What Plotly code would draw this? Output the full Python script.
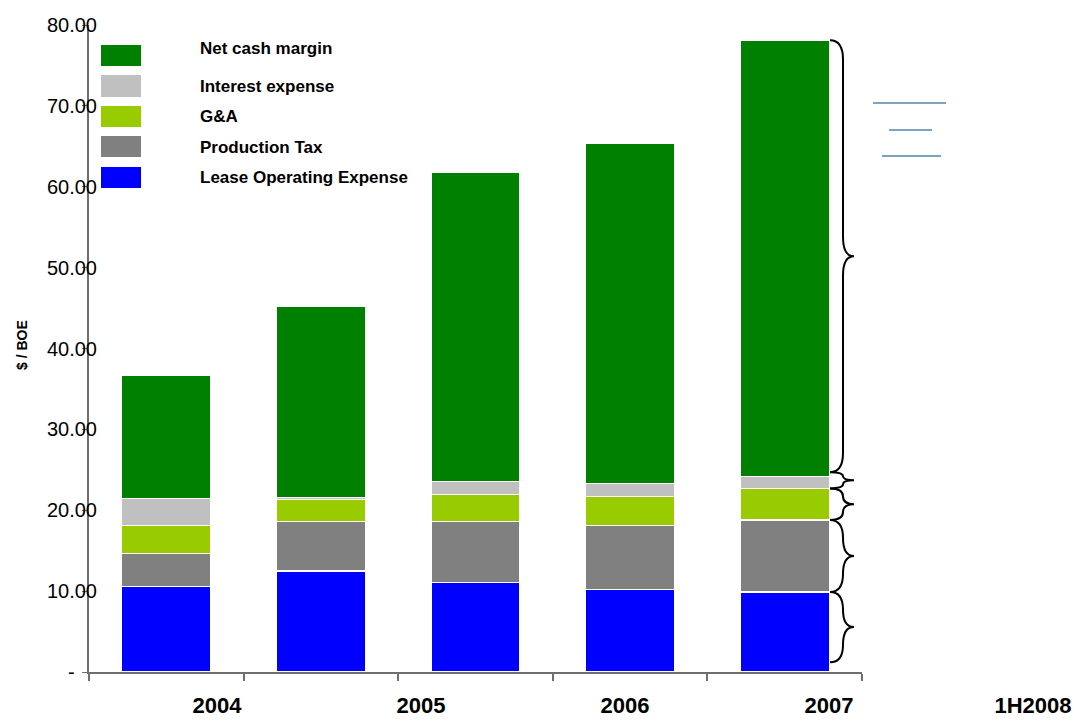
import plotly.graph_objects as go

# ---- data ----
years = ["2004", "2005", "2006", "2007", "1H2008"]
bar_years = ["2004", "2005", "2006", "2007", "1H2008"]
lease_operating = [10.6, 12.5, 11.1, 10.2, 9.9]
production_tax = [4.1, 6.1, 7.5, 7.9, 8.9]
g_and_a = [3.4, 2.7, 3.3, 3.6, 3.9]
interest_expense = [3.4, 0.3, 1.7, 1.6, 1.5]
net_cash_margin = [15.2, 23.6, 38.2, 42.1, 53.9]
y_ticks = [0, 10, 20, 30, 40, 50, 60, 70, 80]
y_tick_text = ["-\u00a0\u00a0\u00a0\u00a0", "10.00", "20.00", "30.00", "40.00",
               "50.00", "60.00", "70.00", "80.00"]
x_label_pos = [0, 1, 2, 3, 4]

series = [
    ("Lease Operating Expense", lease_operating, "#0000FF"),
    ("Production Tax", production_tax, "#808080"),
    ("G&A", g_and_a, "#99CC00"),
    ("Interest expense", interest_expense, "#C0C0C0"),
    ("Net cash margin", net_cash_margin, "#008000"),
]

W, H = 1074, 722
AX_L, AX_R, AX_T, AX_B = 89, 1074, 25, 672   # pixels of the plotting frame
ML, MT, MR, MB = AX_L, AX_T, W - AX_R, H - AX_B
PW = W - ML - MR
PH = H - MT - MB


def px_x(p):
    return (p - AX_L) / PW


def px_y(p):
    return (AX_B - p) / PH


FONT = "Liberation Sans, Arial, sans-serif"

fig = go.Figure()
for name, vals, col in series:
    fig.add_trace(go.Bar(
        x=bar_years, y=vals, name=name, marker_color=col,
        marker_line_color="white", marker_line_width=1.2,
        width=0.575, showlegend=False,
    ))

# invisible trace hosting the (offset) label axis
fig.add_trace(go.Scatter(x=[0], y=[0], xaxis="x2", yaxis="y", mode="markers",
                         marker=dict(opacity=0), showlegend=False, hoverinfo="skip"))

lab0, lab_step = 217, 204
r0 = -(lab0 - AX_L) / lab_step
r1 = r0 + PW / lab_step

fig.update_layout(
    width=W, height=H,
    margin=dict(l=ML, r=MR, t=MT, b=MB, autoexpand=False),
    plot_bgcolor="rgba(0,0,0,0)", paper_bgcolor="white",
    barmode="stack",
    font=dict(family=FONT, color="black"),
    xaxis=dict(
        domain=[0, (862 - AX_L) / PW],
        type="category", categoryorder="array", categoryarray=bar_years,
        range=[-0.5, 4.5],
        showticklabels=False, showgrid=False,
        ticks="outside", ticklen=7, tickwidth=1.5, tickcolor="#6e6e6e",
        tickson="boundaries",
        showline=True, linecolor="#6e6e6e", linewidth=1.5,
        zeroline=False, automargin=False,
    ),
    xaxis2=dict(
        domain=[0, 1], anchor="y",
        range=[r0, r1], tickmode="array", tickvals=x_label_pos, ticktext=years,
        showgrid=False, zeroline=False, showline=False, ticks="",
        tickfont=dict(size=22, family=FONT, color="black", weight="bold"),
        ticklabelstandoff=18, automargin=False,
    ),
    yaxis=dict(
        range=[0, 80], tickmode="array", tickvals=y_ticks, ticktext=y_tick_text,
        showgrid=False, zeroline=False,
        showline=True, linecolor="#6e6e6e", linewidth=2,
        ticks="outside", ticklen=5, tickcolor="#6e6e6e",
        tickfont=dict(size=20, family=FONT, color="black"),
        ticklabelstandoff=-19, automargin=False,
    ),
)

# y-axis title
fig.add_annotation(xref="paper", yref="paper", x=px_x(22), y=px_y(345),
                   xanchor="center", yanchor="middle",
                   text="<b>$ / BOE</b>", textangle=-90, showarrow=False,
                   font=dict(size=14, family=FONT, color="black"))

# legend (custom, large swatches)
legend_rows = [(45, 66, 49), (75, 97, 87), (106, 127, 117), (136, 157, 147), (167, 188, 177)]
for (name, vals, col), (t, b, tc) in zip(reversed(series), legend_rows):
    fig.add_shape(type="rect", xref="paper", yref="paper",
                  x0=px_x(101), x1=px_x(141), y0=px_y(b), y1=px_y(t),
                  fillcolor=col, line=dict(width=0))
    fig.add_annotation(xref="paper", yref="paper", x=px_x(198), y=px_y(tc),
                       text="<b>" + name + "</b>", showarrow=False,
                       xanchor="left", yanchor="middle",
                       font=dict(size=17, family=FONT, color="black"))

# braces beside the last bar
last = [s[1][4] for s in series]
cum = [0]
for v in last:
    cum.append(cum[-1] + v)
brace_ranges = [(1.2, cum[1]), (cum[1], cum[2]), (cum[2], cum[3]), (cum[3], cum[4] + 0.5), (cum[4] + 0.5, cum[5])]
xl, xs, xt = px_x(830), px_x(843), px_x(854)
for lo, hi in brace_ranges:
    r = min(2.4, (hi - lo) / 4)
    mid = (lo + hi) / 2
    path = (f"M {xl},{hi} Q {xs},{hi} {xs},{hi - r} L {xs},{mid + r} "
            f"Q {xs},{mid} {xt},{mid} Q {xs},{mid} {xs},{mid - r} "
            f"L {xs},{lo + r} Q {xs},{lo} {xl},{lo}")
    fig.add_shape(type="path", xref="paper", yref="y", path=path,
                  line=dict(color="black", width=2))

# short steel-blue strokes at right
for x0, x1, yy in [(873, 946, 103), (889, 932, 130), (882, 941, 156)]:
    fig.add_shape(type="line", xref="paper", yref="paper",
                  x0=px_x(x0), x1=px_x(x1), y0=px_y(yy), y1=px_y(yy),
                  line=dict(color="#4F86A8", width=1.5))

fig.write_html(
    "out.html",
    config={"displayModeBar": False},
    post_script="document.body.style.margin='0';document.body.style.overflow='hidden';",
)
